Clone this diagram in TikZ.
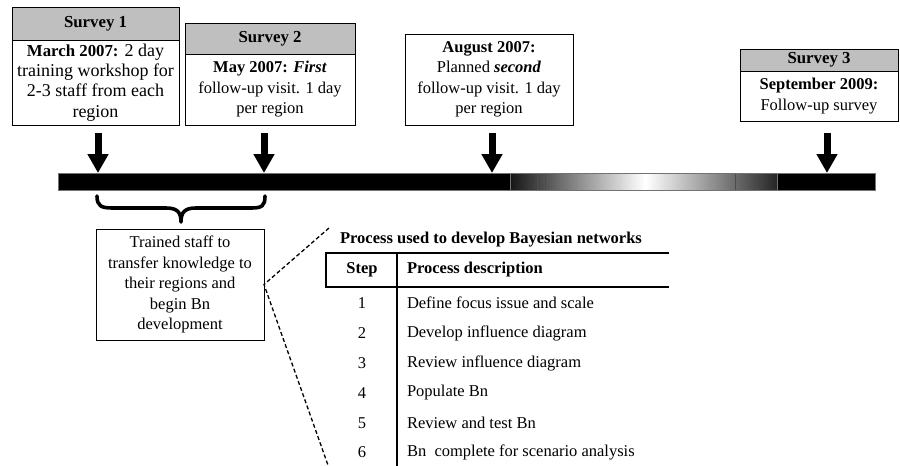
\documentclass[tikz,border=0pt]{standalone}
\usepackage{fontspec}
\setmainfont{Liberation Serif}
\usetikzlibrary{arrows.meta}
\begin{document}
\begin{tikzpicture}[x=1pt,y=-1pt,
  every node/.style={font=\fontsize{16.5}{20.5}\selectfont, inner sep=0pt, outer sep=0pt},
  hdr/.style={draw=black, line width=0.8pt, fill=black!25, anchor=north west,
    font=\fontsize{16.8}{20.5}\selectfont\bfseries},
  bodybox/.style={draw=black, line width=0.8pt, fill=white, anchor=north west, align=center},
  bigarrow/.style={line width=7pt, -{Triangle[width=20pt,length=19pt]}},
  bracestyle/.style={line width=3.6pt, line cap=round, line join=round},
  dashline/.style={line width=1.3pt, dash pattern=on 4pt off 2.5pt},
  tline/.style={line width=1.1pt},
  stepnum/.style={anchor=center},
  stepdesc/.style={anchor=west}
]
\useasboundingbox (0,0) rectangle (900,466);

% Survey 1
\node[hdr, minimum width=167, minimum height=33] (s1h) at (12,7) {Survey 1};
\node[bodybox, minimum width=167, minimum height=85, font=\fontsize{18}{20.3}\selectfont] (s1b) at (12,40)
  {{\fontsize{16.8}{20.3}\selectfont\textbf{March 2007:}} 2 day\\training workshop for\\2-3 staff from each\\region};

% Survey 2
\node[hdr, minimum width=170, minimum height=31] (s2h) at (185,23) {Survey 2};
\node[bodybox, minimum width=170, minimum height=71] (s2b) at (185,54)
  {\textbf{May 2007: \textit{First}}\\follow-up visit. 1 day\\per region};

% August
\node[bodybox, minimum width=168, minimum height=91] (aug) at (405,34)
  {\textbf{August 2007:}\\Planned \textbf{\textit{second}}\\follow-up visit. 1 day\\per region};

% Survey 3
\node[hdr, minimum width=158, minimum height=22] (s3h) at (740,49) {Survey 3};
\node[bodybox, minimum width=158, minimum height=50] (s3b) at (740,71)
  {\textbf{September 2009:}\\Follow-up survey};

% timeline bar
\node[draw=black!55, line width=0.8pt, fill=black, minimum width=817, minimum height=17,
  anchor=north west] (bar) at (58,173) {};
% faded (uncertain) stretch of the timeline
\foreach \i in {0,...,266}{
  \pgfmathtruncatemacro\g{\i<135 ? 92*(135-\i)/135 : 86*(\i-135)/132}
  \fill[black!\g] (510+\i,173.4) rectangle (511.3+\i,189.6);
}
\node[draw=black!55, line width=0.8pt, minimum width=267, minimum height=17,
  anchor=north west] (gap) at (510,173) {};
\draw[black!70, line width=0.6pt] (537,173.5) -- (537,189.5) (545,173.5) -- (545,189.5)
  (735,173.5) -- (735,189.5);

% arrows
\coordinate (a1) at (98,133);
\coordinate (a2) at (264,133);
\coordinate (a3) at (492,133);
\coordinate (a4) at (827,133);
\draw[bigarrow] (a1) -- (a1 |- bar.north);
\draw[bigarrow] (a2) -- (a2 |- bar.north);
\draw[bigarrow] (a3) -- (a3 |- bar.north);
\draw[bigarrow] (a4) -- (a4 |- bar.north);

% brace
\draw[bracestyle] (97,196) .. controls (97,206) and (101,208) .. (113,208)
  -- (166,208) .. controls (177,208) and (181,212) .. (181,222)
  .. controls (181,212) and (185,208) .. (196,208)
  -- (251,208) .. controls (262,208) and (265,206) .. (265,196);

% trained staff box
\node[bodybox, minimum width=168, minimum height=111] (tb) at (96,229)
  {Trained staff to\\transfer knowledge to\\their regions and\\begin Bn\\development};

% dashed connectors
\coordinate (d1) at (329,228);
\coordinate (d2) at (329,468);
\draw[dashline] (d1) -- (tb.east) -- (d2);

% table
\node[font=\fontsize{16.5}{20.5}\selectfont\bfseries] (ttl) at (491,240)
  {Process used to develop Bayesian networks};
\coordinate (tl) at (326,253);
\coordinate (tr) at (669,253);
\coordinate (bl) at (326,287);
\coordinate (br) at (669,287);
\coordinate (dv) at (397,253);
\coordinate (dvb) at (397,470);
\draw[tline] (tr) -- (tl) -- (bl) -- (br);
\draw[tline] (dv) -- (dvb);
\node[stepnum, font=\fontsize{16.5}{20.5}\selectfont\bfseries] (hs) at (362,270) {Step};
\node[stepdesc, font=\fontsize{16.5}{20.5}\selectfont\bfseries] (hd) at (407,270) {Process description};

\node[stepnum] (n1) at (362,303) {1};
\node[stepdesc] (t1) at (407,303) {Define focus issue and scale};
\node[stepnum] (n2) at (362,333) {2};
\node[stepdesc] (t2) at (407,333) {Develop influence diagram};
\node[stepnum] (n3) at (362,363) {3};
\node[stepdesc] (t3) at (407,363) {Review influence diagram};
\node[stepnum] (n4) at (362,393) {4};
\node[stepdesc] (t4) at (407,393) {Populate Bn};
\node[stepnum] (n5) at (362,423) {5};
\node[stepdesc] (t5) at (407,423) {Review and test Bn};
\node[stepnum] (n6) at (362,452) {6};
\node[stepdesc] (t6) at (407,452) {Bn\ \ complete for scenario analysis};
\end{tikzpicture}
\end{document}
